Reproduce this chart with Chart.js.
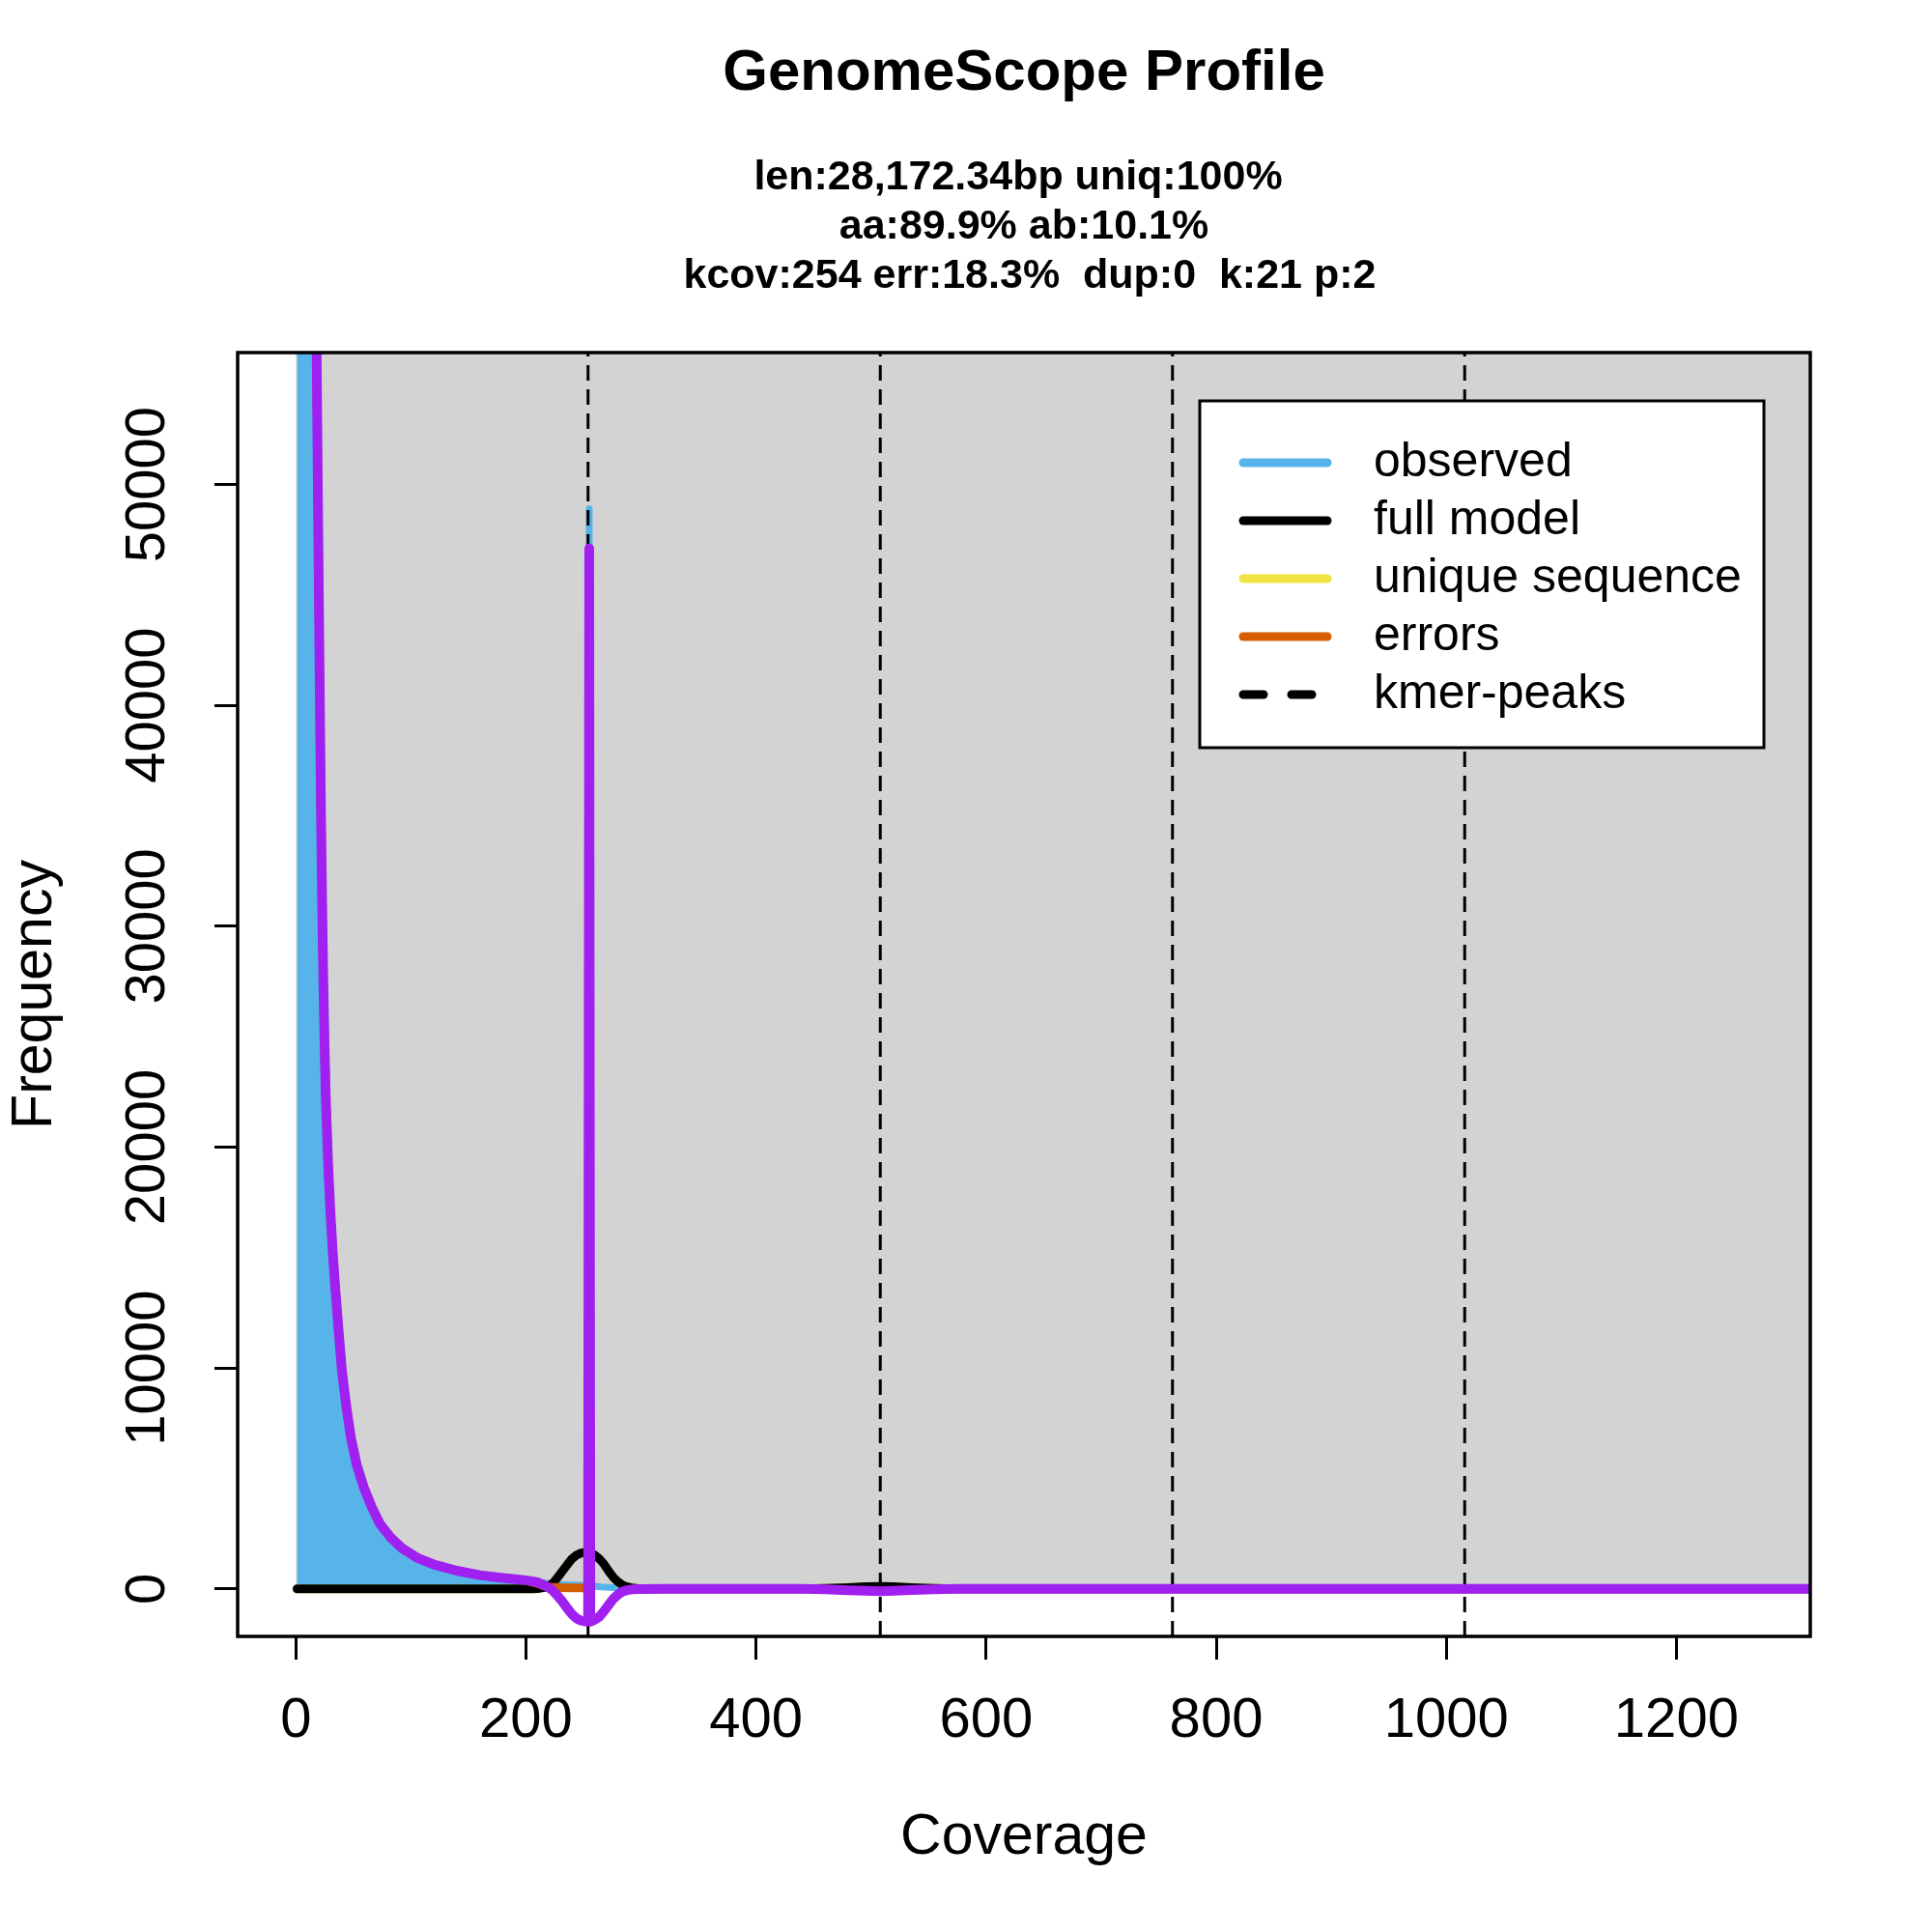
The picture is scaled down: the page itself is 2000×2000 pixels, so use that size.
<!DOCTYPE html>
<html>
<head>
<meta charset="utf-8">
<title>GenomeScope Profile</title>
<script src="https://cdn.jsdelivr.net/npm/chart.js@4.4.1/dist/chart.umd.min.js"></script>
<style>
  html, body { margin: 0; padding: 0; background: #ffffff; }
  #profile { display: block; }
</style>
</head>
<body>
<canvas id="profile" width="2000" height="2000"></canvas>
<script>
// k-mer coverage (x) against frequency (y)
const obsX = [1, 2, 3, 4, 6, 8, 10, 12, 14, 16, 17, 18, 19, 20, 21, 22, 23, 24, 25, 26,
              28, 30, 32, 34, 37, 40, 44, 48, 53, 59, 66, 73, 82, 92, 105, 120, 140, 160, 180, 200,
              210, 220, 230, 240, 250, 254, 255, 256, 265, 280, 300, 320, 1320];
const obsY = [6000000, 2800000, 1500000, 1000000, 560000, 330000, 210000, 140000, 98000, 74000,
              64000, 56500, 50500, 45000, 39500, 34500, 30500, 27200, 24500, 22300,
              19300, 17100, 15300, 13800, 11800, 9900, 8200, 6800, 5600, 4600,
              3700, 2950, 2350, 1850, 1420, 1100, 820, 620, 490, 390,
              320, 240, 200, 180, 170, 170, 48900, 130, 90, 45, 15, 0, 0];

const modelX = [1, 205, 210, 215, 220, 224, 228, 232, 236, 240, 244, 248, 252, 256, 260, 264, 268, 272,
                276, 280, 284, 288, 292, 296, 300, 306, 440, 460, 480, 495, 508, 520, 535, 555, 575, 1320];
const modelY = [0, 0, 15, 50, 140, 280, 550, 820, 1100, 1360, 1530, 1620, 1650, 1630, 1520, 1350, 1110, 800,
                520, 320, 170, 90, 45, 20, 8, 0, 0, 20, 60, 95, 110, 95, 60, 20, 0, 0];

// uniq:100%, so the unique-sequence curve sits on the full model
const uniqueX = [1, 205, 210, 215, 220, 224, 228, 232, 236, 240, 244, 248, 252, 256, 260, 264, 268, 272,
                 276, 280, 284, 288, 292, 296, 300, 306, 440, 460, 480, 495, 508, 520, 535, 555, 575, 1320];
const uniqueY = [0, 0, 15, 50, 140, 280, 550, 820, 1100, 1360, 1530, 1620, 1650, 1630, 1520, 1350, 1110, 800,
                 520, 320, 170, 90, 45, 20, 8, 0, 0, 20, 60, 95, 110, 95, 60, 20, 0, 0];

const errX = [1, 2, 3, 4, 6, 8, 10, 12, 14, 16, 17, 18, 19, 20, 21, 22, 23, 24, 25, 26,
              28, 30, 32, 34, 37, 40, 44, 48, 53, 59, 66, 73, 82, 92, 105, 120, 140, 160, 180, 200,
              210, 215, 220, 230, 240, 254];
const errY = [6000000, 2800000, 1500000, 1000000, 560000, 330000, 210000, 140000, 98000, 74000,
              64000, 56500, 50500, 45000, 39500, 34500, 30500, 27200, 24500, 22300,
              19300, 17100, 15300, 13800, 11800, 9900, 8200, 6800, 5600, 4600,
              3700, 2950, 2350, 1850, 1420, 1100, 820, 620, 490, 390,
              250, 150, 80, 55, 45, 40];

// purple curve (not in the legend): observed minus model
const residX = [1, 2, 3, 4, 6, 8, 10, 12, 14, 16, 17, 18, 19, 20, 21, 22, 23, 24, 25, 26,
                28, 30, 32, 34, 37, 40, 44, 48, 53, 59, 66, 73, 82, 92, 105, 120, 140, 160, 180, 200,
                210, 216, 220, 224, 228, 232, 236, 240, 244, 248, 252, 254, 255, 256, 260, 264, 268, 272,
                276, 280, 284, 288, 292, 300, 320, 440, 460, 480, 495, 508, 520, 535, 555, 575, 1320];
const residY = [6000000, 2800000, 1500000, 1000000, 560000, 330000, 210000, 140000, 98000, 74000,
                64000, 56500, 50500, 45000, 39500, 34500, 30500, 27200, 24500, 22300,
                19300, 17100, 15300, 13800, 11800, 9900, 8200, 6800, 5600, 4600,
                3700, 2950, 2350, 1850, 1420, 1100, 820, 620, 490, 390,
                300, 150, 60, -110, -340, -600, -880, -1150, -1340, -1440, -1480, -1480, 47100, -1490,
                -1400, -1250, -1000, -720, -450, -260, -120, -60, -25, -5, 0, 0, -20, -60, -90, -105,
                -90, -55, -20, 0, 0];

const peakX = [254, 508, 762, 1016];

const xTicks = [0, 200, 400, 600, 800, 1000, 1200];
const yTicks = [0, 10000, 20000, 30000, 40000, 50000];

const legendLabels = ['observed', 'full model', 'unique sequence', 'errors', 'kmer-peaks'];
const subtitleLines = ['len:28,172.34bp uniq:100% ', 'aa:89.9% ab:10.1%', ' kcov:254 err:18.3%  dup:0  k:21 p:2'];

// R-style axis limits (data range padded by 4%)
const X_MIN = -50.6, X_MAX = 1316.4;
const Y_MIN = -2153, Y_MAX = 55973;

const FONT = "'Liberation Sans', Arial, Helvetica, sans-serif";
const COL_HIST = '#56B4E9';
const COL_MODEL = '#000000';
const COL_UNIQUE = '#F0E442';
const COL_ERR = '#D55E00';
const COL_RESID = '#A020F0';
const COL_BG = '#D3D3D3';

Chart.defaults.font.family = FONT;
Chart.defaults.color = '#000';

function pts(xs, ys) {
    return xs.map((x, i) => ({x: x, y: ys[i]}));
}

function lineSet(label, xs, ys, color, width, order) {
    return {
        label: label,
        data: pts(xs, ys),
        borderColor: color,
        borderWidth: width,
        borderCapStyle: 'round',
        borderJoinStyle: 'round',
        pointRadius: 0,
        tension: 0,
        fill: false,
        clip: 0,
        order: order
    };
}

let peakData = [];
peakX.forEach(p => {
    peakData.push({x: p, y: Y_MIN}, {x: p, y: Y_MAX}, {x: p, y: null});
});

let observed = lineSet('observed', obsX, obsY, COL_HIST, 7, 6);
observed.fill = 'origin';
observed.backgroundColor = COL_HIST;

let peaks = lineSet('kmer-peaks', [], [], COL_MODEL, 3, 2);
peaks.data = peakData;
peaks.borderDash = [16, 9];
peaks.borderCapStyle = 'butt';
peaks.spanGaps = false;

// grey panel: from coverage 0 and frequency 0 upwards
const panelPlugin = {
    id: 'panel',
    beforeDatasetsDraw(chart) {
        const ctx = chart.ctx;
        const area = chart.chartArea;
        const x0 = chart.scales.x.getPixelForValue(0);
        const y0 = chart.scales.y.getPixelForValue(0);
        ctx.save();
        ctx.fillStyle = COL_BG;
        ctx.fillRect(x0, area.top, area.right - x0, y0 - area.top);
        ctx.restore();
    }
};

const legendPlugin = {
    id: 'rLegend',
    afterDatasetsDraw(chart) {
        const ctx = chart.ctx;
        const colors = [COL_HIST, COL_MODEL, COL_UNIQUE, COL_ERR, COL_MODEL];
        ctx.save();
        ctx.fillStyle = '#ffffff';
        ctx.fillRect(1242, 415, 584, 359);
        ctx.lineWidth = 3;
        ctx.strokeStyle = '#000';
        ctx.strokeRect(1242, 415, 584, 359);
        ctx.font = '50px ' + FONT;
        ctx.textBaseline = 'middle';
        ctx.textAlign = 'left';
        for (let i = 0; i < legendLabels.length; i++) {
            const y = 479 + i * 60;
            ctx.beginPath();
            ctx.lineCap = 'round';
            ctx.lineWidth = 9;
            ctx.strokeStyle = colors[i];
            ctx.setLineDash(i === 4 ? [21, 29] : []);
            ctx.moveTo(1287, y);
            ctx.lineTo(1374, y);
            ctx.stroke();
            ctx.setLineDash([]);
            ctx.fillStyle = '#000';
            ctx.fillText(legendLabels[i], 1422, y);
        }
        ctx.restore();
    }
};

const framePlugin = {
    id: 'frame',
    afterDraw(chart) {
        const ctx = chart.ctx;
        const a = chart.chartArea;
        ctx.save();
        ctx.lineWidth = 3.5;
        ctx.strokeStyle = '#000';
        ctx.strokeRect(a.left, a.top, a.right - a.left, a.bottom - a.top);
        ctx.restore();
    }
};

new Chart(document.getElementById('profile'), {
    type: 'line',
    data: {
        datasets: [
            lineSet('residual', residX, residY, COL_RESID, 10, 1),
            peaks,
            lineSet('errors', errX, errY, COL_ERR, 9, 3),
            lineSet('full model', modelX, modelY, COL_MODEL, 9, 4),
            lineSet('unique sequence', uniqueX, uniqueY, COL_UNIQUE, 9, 5),
            observed
        ]
    },
    options: {
        responsive: false,
        animation: false,
        devicePixelRatio: 1,
        events: [],
        layout: { padding: { top: 0, left: 0, right: 126, bottom: 0 } },
        plugins: {
            legend: { display: false },
            tooltip: { enabled: false },
            title: {
                display: true,
                fullSize: false,
                text: 'GenomeScope Profile',
                color: '#000',
                font: { size: 60, weight: 'bold', lineHeight: 1.2 },
                padding: { top: 40.5, bottom: 0 }
            },
            subtitle: {
                display: true,
                fullSize: false,
                text: subtitleLines,
                color: '#000',
                font: { size: 43, weight: 'bold', lineHeight: '51px' },
                padding: { top: 45.7, bottom: 53.8 }
            }
        },
        scales: {
            x: {
                type: 'linear',
                min: X_MIN,
                max: X_MAX,
                afterBuildTicks: s => { s.ticks = xTicks.map(v => ({value: v})); },
                afterFit: s => { s.height = 306; },
                ticks: {
                    autoSkip: false,
                    maxRotation: 0,
                    padding: 29,
                    color: '#000',
                    font: { size: 58 },
                    callback: v => String(v)
                },
                grid: {
                    drawOnChartArea: false,
                    drawTicks: true,
                    tickLength: 24,
                    tickWidth: 3,
                    tickColor: '#000'
                },
                border: { display: false },
                title: {
                    display: true,
                    text: 'Coverage',
                    color: '#000',
                    font: { size: 59, lineHeight: 1.2 },
                    padding: { top: 0, bottom: 61.6 }
                }
            },
            y: {
                type: 'linear',
                min: Y_MIN,
                max: Y_MAX,
                afterBuildTicks: s => { s.ticks = yTicks.map(v => ({value: v})); },
                afterFit: s => { s.width = 246; },
                ticks: {
                    autoSkip: false,
                    minRotation: 90,
                    maxRotation: 90,
                    crossAlign: 'center',
                    padding: -12.6,
                    color: '#000',
                    font: { size: 58 },
                    callback: v => String(v)
                },
                grid: {
                    drawOnChartArea: false,
                    drawTicks: true,
                    tickLength: 24,
                    tickWidth: 3,
                    tickColor: '#000'
                },
                border: { display: false },
                title: {
                    display: true,
                    text: 'Frequency',
                    color: '#000',
                    font: { size: 59, lineHeight: 1.2 },
                    padding: { top: 1, bottom: 0 }
                }
            }
        }
    },
    plugins: [panelPlugin, legendPlugin, framePlugin]
});
</script>
</body>
</html>
